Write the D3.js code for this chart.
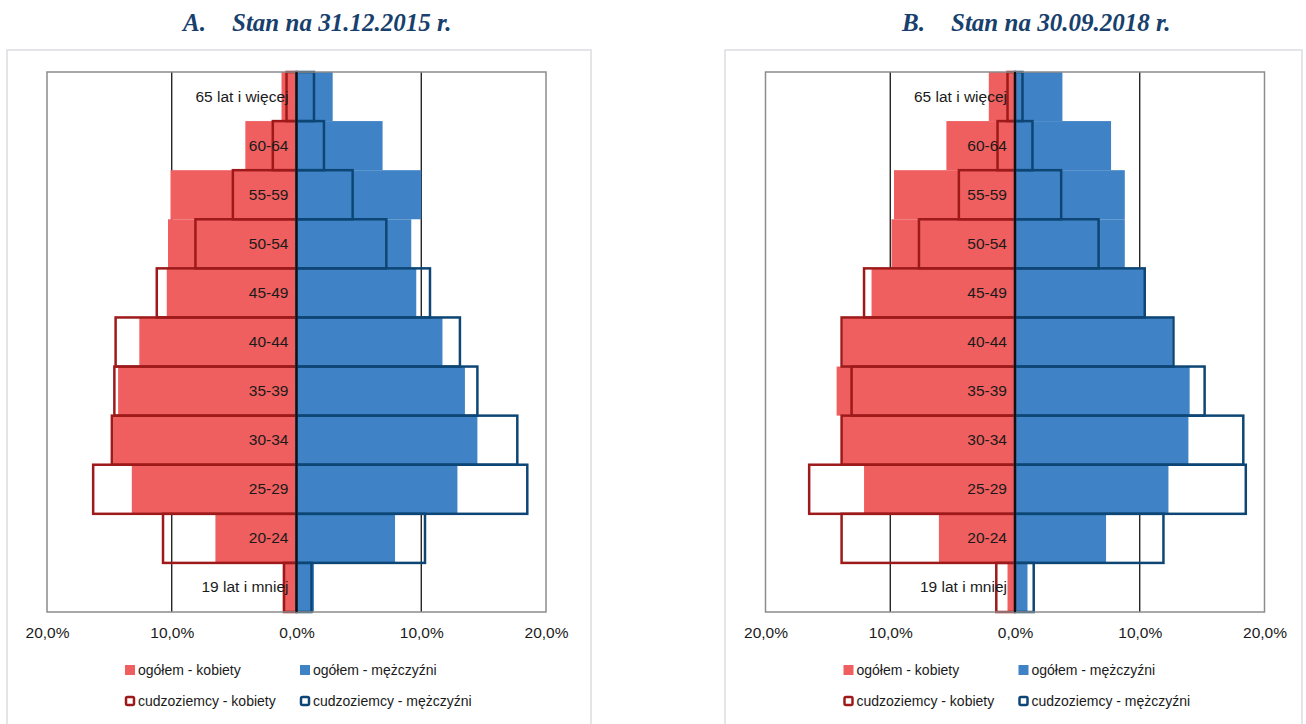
<!DOCTYPE html>
<html>
<head>
<meta charset="utf-8">
<script src="https://cdn.jsdelivr.net/npm/d3@7"></script>
<style>
  body { margin: 0; background: #fff; }
  svg text { font-family: 'Liberation Sans', Arial, sans-serif; fill: #1a1a1a; }
  .title { font-family: 'Liberation Serif', serif; font-weight: bold; font-style: italic; font-size: 25px; fill: #17406d; }
</style>
</head>
<body>
<svg id="chart" width="1306" height="724"></svg>
<script>
// age groups, top to bottom
var categories = ['65 lat i więcej', '60-64', '55-59', '50-54', '45-49', '40-44', '35-39', '30-34', '25-29', '20-24', '19 lat i mniej']
var xTicks = [-20, -10, 0, 10, 20]

// A. 31.12.2015 (% of each sex)
var womenTotalA = [1.2, 4.1, 10.1, 10.3, 10.4, 12.6, 14.3, 14.7, 13.2, 6.5, 1.1]
var womenForeignA = [0.8, 1.9, 5.1, 8.1, 11.2, 14.5, 14.6, 14.8, 16.3, 10.7, 1.0]
var menTotalA = [2.9, 6.9, 10.0, 9.2, 9.6, 11.7, 13.5, 14.5, 12.9, 7.9, 1.4]
var menForeignA = [1.4, 2.2, 4.5, 7.2, 10.7, 13.1, 14.5, 17.7, 18.5, 10.3, 1.2]

// B. 30.09.2018
var womenTotalB = [2.1, 5.5, 9.7, 9.9, 11.5, 13.8, 14.3, 13.9, 12.1, 6.1, 0.6]
var womenForeignB = [0.6, 1.4, 4.5, 7.7, 12.1, 13.9, 13.1, 13.9, 16.5, 13.9, 1.5]
var menTotalB = [3.8, 7.7, 8.8, 8.8, 10.4, 12.6, 14.0, 13.9, 12.3, 7.3, 1.0]
var menForeignB = [0.6, 1.4, 3.7, 6.7, 10.4, 12.7, 15.2, 18.3, 18.5, 11.9, 1.5]

var legendItems = [
  {label: 'ogółem - kobiety', kind: 'fill', color: '#ef5f5f'},
  {label: 'ogółem - mężczyźni', kind: 'fill', color: '#3f83c6'},
  {label: 'cudzoziemcy - kobiety', kind: 'line', color: '#9e1a1a'},
  {label: 'cudzoziemcy - mężczyźni', kind: 'line', color: '#0d4675'}
]

var svg = d3.select('#chart')

function fmt (d) { return Math.abs(d).toFixed(1).replace('.', ',') + '%' }

function drawPanel (opts) {
  var plot = {left: opts.left, top: 72, width: 499, height: 540}

  // outer frame
  svg.append('rect')
    .attr('x', opts.frameX).attr('y', 50)
    .attr('width', opts.frameW).attr('height', 700)
    .attr('fill', 'none').attr('stroke', '#dcdde2').attr('stroke-width', 1.5)

  // title
  svg.append('text').attr('class', 'title').attr('x', opts.titleX).attr('y', 31).text(opts.letter)
  svg.append('text').attr('class', 'title').attr('x', opts.titleX + 49).attr('y', 31).text(opts.title)

  var x = d3.scaleLinear().domain([-20, 20]).range([0, plot.width])
  var y = d3.scaleBand().domain(categories).range([0, plot.height]).padding(0)

  var g = svg.append('g').attr('transform', 'translate(' + plot.left + ',' + plot.top + ')')

  // gridlines
  g.selectAll('.grid').data([-10, 10]).enter().append('line')
    .attr('x1', function (d) { return x(d) }).attr('x2', function (d) { return x(d) })
    .attr('y1', 0).attr('y2', plot.height)
    .attr('stroke', '#000').attr('stroke-width', 1.2)

  var rows = categories.map(function (c, i) {
    return {cat: c, wt: opts.wt[i], wf: opts.wf[i], mt: opts.mt[i], mf: opts.mf[i]}
  })

  // total population bars (filled)
  g.selectAll('.wt').data(rows).enter().append('rect')
    .attr('x', function (d) { return x(-d.wt) })
    .attr('y', function (d) { return y(d.cat) })
    .attr('width', function (d) { return x(0) - x(-d.wt) })
    .attr('height', y.bandwidth())
    .attr('fill', '#ef5f5f')
  g.selectAll('.mt').data(rows).enter().append('rect')
    .attr('x', x(0))
    .attr('y', function (d) { return y(d.cat) })
    .attr('width', function (d) { return x(d.mt) - x(0) })
    .attr('height', y.bandwidth())
    .attr('fill', '#3f83c6')

  // foreigners (outlined)
  g.selectAll('.wf').data(rows).enter().append('rect')
    .attr('x', function (d) { return x(-d.wf) })
    .attr('y', function (d) { return y(d.cat) })
    .attr('width', function (d) { return x(0) - x(-d.wf) })
    .attr('height', y.bandwidth())
    .attr('fill', 'none').attr('stroke', '#9e1a1a').attr('stroke-width', 2.5)
  g.selectAll('.mf').data(rows).enter().append('rect')
    .attr('x', x(0))
    .attr('y', function (d) { return y(d.cat) })
    .attr('width', function (d) { return x(d.mf) - x(0) })
    .attr('height', y.bandwidth())
    .attr('fill', 'none').attr('stroke', '#0d4675').attr('stroke-width', 2.5)

  // plot border
  g.append('rect').attr('width', plot.width).attr('height', plot.height)
    .attr('fill', 'none').attr('stroke', '#8c8c8c').attr('stroke-width', 1.5)

  // zero line
  g.append('line').attr('x1', x(0)).attr('x2', x(0)).attr('y1', 0).attr('y2', plot.height)
    .attr('stroke', '#111').attr('stroke-width', 2)

  // category axis at zero
  var yAxisG = g.append('g')
    .attr('transform', 'translate(' + x(0) + ',0)')
    .call(d3.axisLeft(y).tickSize(0).tickPadding(8))
  yAxisG.select('.domain').remove()
  yAxisG.selectAll('text').style('font-size', '15.5px').style('font-family', null)

  // value axis
  var xAxisG = g.append('g')
    .attr('transform', 'translate(0,' + plot.height + ')')
    .call(d3.axisBottom(x).tickValues(xTicks).tickFormat(fmt).tickSize(0).tickPadding(15))
  xAxisG.select('.domain').remove()
  xAxisG.selectAll('text').style('font-size', '15.5px').style('font-family', null)

  // legend
  var leg = svg.append('g').attr('transform', 'translate(' + (plot.left + 78) + ',0)')
  legendItems.forEach(function (item, i) {
    var lx = (i % 2) * 175
    var ly = i < 2 ? 670 : 701
    if (item.kind === 'fill') {
      leg.append('rect').attr('x', lx).attr('y', ly - 5).attr('width', 10).attr('height', 10)
        .attr('fill', item.color)
    } else {
      leg.append('rect').attr('x', lx + 1).attr('y', ly - 4).attr('width', 8).attr('height', 8)
        .attr('rx', 1.5)
        .attr('fill', '#fff').attr('stroke', item.color).attr('stroke-width', 2.5)
    }
    leg.append('text').attr('x', lx + 13).attr('y', ly)
      .attr('dominant-baseline', 'central')
      .style('font-size', '14px')
      .text(item.label)
  })
}

drawPanel({left: 47, frameX: 7, frameW: 584, titleX: 183, letter: 'A.', title: 'Stan na 31.12.2015 r.',
  wt: womenTotalA, wf: womenForeignA, mt: menTotalA, mf: menForeignA})
drawPanel({left: 765.5, frameX: 725, frameW: 577, titleX: 902, letter: 'B.', title: 'Stan na 30.09.2018 r.',
  wt: womenTotalB, wf: womenForeignB, mt: menTotalB, mf: menForeignB})
</script>
</body>
</html>
